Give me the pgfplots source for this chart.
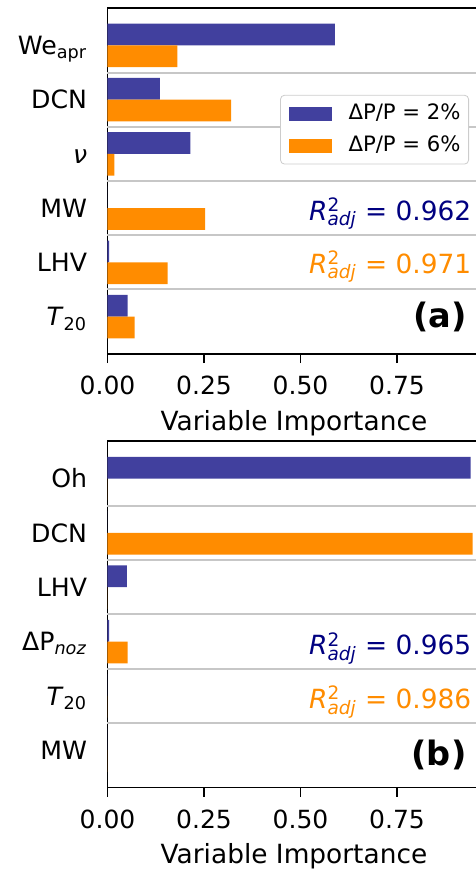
\documentclass[border=0pt]{standalone}
\usepackage{fontspec}
\setmainfont{DejaVu Sans}
\usepackage{pgfplots}
\usepackage{pgfplotstable}
\pgfplotsset{compat=1.18}
\definecolor{bblue}{RGB}{65,64,158}
\definecolor{borange}{RGB}{255,140,0}
\definecolor{rnavy}{RGB}{0,0,128}
\newcommand\Radj{\textit{R}\rlap{\textsuperscript{2}}\textsubscript{\textit{adj}}}

\pgfplotstableread{
y blue orange
5 0.589 0.181
4 0.136 0.320
3 0.215 0.018
2 0.000 0.253
1 0.004 0.156
0 0.052 0.070
}\dataA

\pgfplotstableread{
y blue orange
5 0.941 0.000
4 0.000 0.946
3 0.050 0.000
2 0.004 0.052
1 0.000 0.000
0 0.000 0.000
}\dataB

\pgfplotsset{
 vimp/.style={
  scale only axis, width=184.25pt,
  anchor=north west,
  xmin=0, xmax=0.9547, ymin=-0.69, ymax=5.69,
  axis x line*=box, axis y line*=left,
  axis line style={line width=0.7pt, black},
  xtick={0,0.25,0.5,0.75},
  xtick pos=left,
  tick align=outside,
  major tick length=4.5pt,
  tick style={line width=0.7pt, black},
  ytick={0,1,2,3,4,5},
  ytick style={draw=none},
  extra y ticks={0.5,1.5,2.5,3.5,4.5},
  extra y tick labels={},
  extra y tick style={grid=major, major grid style={line width=1pt, color=black!22}, tick style={draw=none}},
  xticklabel style={font=\fontsize{12.5}{15}\selectfont, inner sep=0pt, anchor=north, yshift=-6.5pt,
    /pgf/number format/fixed, /pgf/number format/fixed zerofill, /pgf/number format/precision=2,
    /pgf/number format/assume math mode=true},
  yticklabel style={font=\fontsize{12.6}{15}\selectfont, anchor=east, inner sep=0pt, text width=80pt, align=right, text height=9.2pt, text depth=0pt, xshift=-5.5pt},
  xlabel={Variable Importance},
  xlabel style={at={(axis description cs:0.506,0)}, anchor=base, yshift=-38pt, inner sep=0pt, font=\fontsize{13.2}{16}\selectfont},
  clip=false,
 },
 bl/.style={xbar, bar width=0.4, bar shift=0.2, fill=bblue, draw=none},
 or/.style={xbar, bar width=0.4, bar shift=-0.2, fill=borange, draw=none},
}

\begin{document}
\begin{tikzpicture}
\begin{axis}[vimp, at={(53.75pt,-4pt)}, height=173pt,
  yticklabels={\textit{T}\textsubscript{20}, LHV, MW, \textit{ν}, DCN, We\textsubscript{apr}},
  legend style={at={(0.981,0.749)}, anchor=north east, draw=black!20, rounded corners=2pt,
    fill=white, inner xsep=4pt, inner ysep=1.2pt,
    font=\fontsize{10.6}{12}\selectfont,
    nodes={inner xsep=0pt, inner ysep=3pt, text height=8pt, text depth=2pt},
    /tikz/every odd column/.append style={column sep=8.5pt}},
  legend cell align=left,
  legend image code/.code={\fill[#1, sharp corners] (0pt,-3.5pt) rectangle (21.5pt,3.5pt);},
]
\addplot[bl] table[x=blue, y=y] {\dataA};
\addlegendentry{ΔP/P = 2\%}
\addplot[or] table[x=orange, y=y] {\dataA};
\addlegendentry{ΔP/P = 6\%}
\node[anchor=base east, text=rnavy, font=\fontsize{13.2}{15}\selectfont, inner sep=0pt] at (axis description cs:0.988,0.387) {\Radj{} = 0.962};
\node[anchor=base east, text=borange, font=\fontsize{13.2}{15}\selectfont, inner sep=0pt] at (axis description cs:0.988,0.234) {\Radj{} = 0.971};
\node[anchor=base east, font=\bfseries\fontsize{16.8}{20}\selectfont, inner sep=0pt] at (axis description cs:0.975,0.078) {(a)};
\end{axis}

\begin{axis}[vimp, at={(53.75pt,-220.5pt)}, height=173.35pt,
  yticklabels={MW, \textit{T}\textsubscript{20}, ΔP\textsubscript{\textit{noz}}, LHV, DCN, Oh},
]
\addplot[bl] table[x=blue, y=y] {\dataB};
\addplot[or] table[x=orange, y=y] {\dataB};
\node[anchor=base east, text=rnavy, font=\fontsize{13.2}{15}\selectfont, inner sep=0pt] at (axis description cs:0.988,0.383) {\Radj{} = 0.965};
\node[anchor=base east, text=borange, font=\fontsize{13.2}{15}\selectfont, inner sep=0pt] at (axis description cs:0.988,0.229) {\Radj{} = 0.986};
\node[anchor=base east, font=\bfseries\fontsize{16.8}{20}\selectfont, inner sep=0pt] at (axis description cs:0.975,0.065) {(b)};
\end{axis}
\pgfresetboundingbox
\path (0,0) rectangle (238pt,-434.5pt);
\end{tikzpicture}
\end{document}
